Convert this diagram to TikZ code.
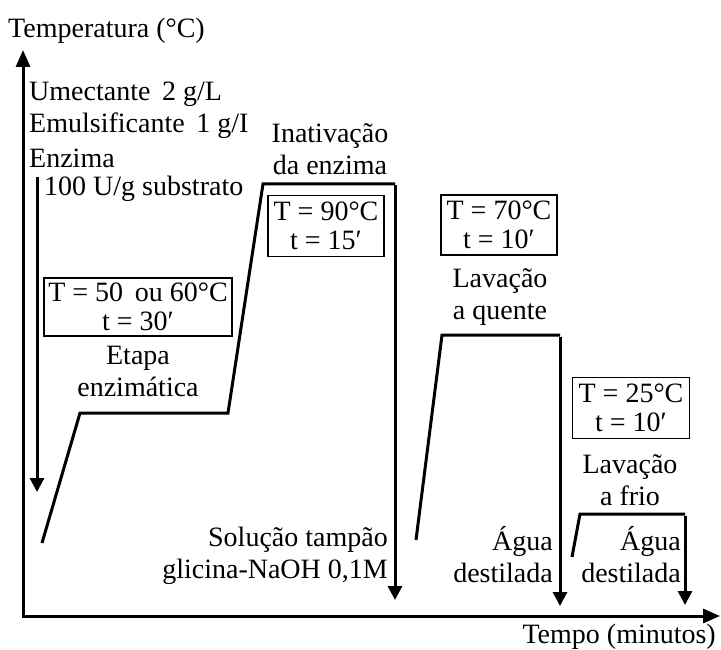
\documentclass[tikz,border=0pt]{standalone}
\usepackage{fontspec}
\setmainfont{Liberation Serif}
\usetikzlibrary{arrows.meta}
\begin{document}
\begin{tikzpicture}[x=1pt,y=-1pt,
  lbl/.style={inner sep=0pt, font=\fontsize{28}{32}\selectfont},
  cond/.style={draw, line width=1.5pt, inner sep=0pt, font=\fontsize{28}{29}\selectfont, align=center},
  prof/.style={line width=3pt, line join=miter},
  axisline/.style={line width=3pt, -{Triangle[length=17pt,width=14pt]}},
  downarrow/.style={line width=3pt, -{Triangle[length=14pt,width=14pt]}}]
\useasboundingbox (0,0) rectangle (721,650);
% axes
\coordinate (O) at (23,616);
\coordinate (ytop) at (23,50);
\coordinate (xend) at (720,616);
\draw[axisline] (O) -- (ytop);
\draw[axisline] ([xshift=-1.5pt]O) -- (xend);
\node[lbl, anchor=west] (tlabel) at (8,31) {Temperatura (°C)};
\node[lbl, anchor=east] (xlabel) at (716,637) {Tempo (minutos)};
% additions
\node[lbl, anchor=west] (um) at (29,94) {Umectante\, 2 g/L};
\node[lbl, anchor=west] (em) at (29,126) {Emulsificante\, 1 g/I};
\node[lbl, anchor=west] (en) at (29,158) {Enzima};
\node[lbl, anchor=west] (sub) at (44,189) {100 U/g substrato};
\coordinate (bartop) at (37,177);
\coordinate (barbot) at (37,492);
\draw[downarrow] (bartop) -- (barbot);
% profile 1
\coordinate (p1) at (42,543);
\coordinate (p2) at (80,413);
\coordinate (p3) at (228,413);
\coordinate (p4) at (263,184);
\coordinate (p5) at (395,184);
\coordinate (p6) at (395,600);
\draw[prof] (p1) -- (p2) -- (p3) -- (p4) -- (p5);
\draw[downarrow] ([yshift=-1.5pt]p5) -- (p6);
% profile 2
\coordinate (q1) at (416,540);
\coordinate (q2) at (442,335);
\coordinate (q3) at (560,335);
\coordinate (q4) at (560,606);
\draw[prof] (q1) -- (q2) -- (q3);
\draw[downarrow] ([yshift=-1.5pt]q3) -- (q4);
% profile 3
\coordinate (r1) at (572,557);
\coordinate (r2) at (580,514);
\coordinate (r3) at (685,514);
\coordinate (r4) at (685,605);
\draw[prof] (r1) -- (r2) -- (r3);
\draw[downarrow] ([yshift=-1.5pt]r3) -- (r4);
% condition boxes
\node[cond, minimum width=188pt, minimum height=58pt] (b1) at (138,307) {T = 50\, ou 60°C\\t = 30′};
\node[cond, minimum width=116pt, minimum height=61pt] (b2) at (326,226) {T = 90°C\\t = 15′};
\node[cond, minimum width=116pt, minimum height=60pt] (b3) at (499,225) {T = 70°C\\t = 10′};
\node[cond, minimum width=117pt, minimum height=61pt] (b4) at (631,408) {T = 25°C\\t = 10′};
% stage labels
\node[lbl, align=center] (s1) at (138,371) {Etapa\\enzimática};
\node[lbl, align=center] (s2) at (330,149) {Inativação\\da enzima};
\node[lbl, align=center] (s3) at (500,297) {Lavação\\a quente};
\node[lbl, align=center] (s4) at (630,480) {Lavação\\a frio};
% media
\node[lbl, align=right, anchor=east] (m1) at (388,556) {Solução tampão\\glicina-NaOH 0,1M};
\node[lbl, align=right, anchor=east] (m2) at (553,555) {Água\\destilada};
\node[lbl, align=right, anchor=east] (m3) at (681,555) {Água\\destilada};
\end{tikzpicture}
\end{document}
